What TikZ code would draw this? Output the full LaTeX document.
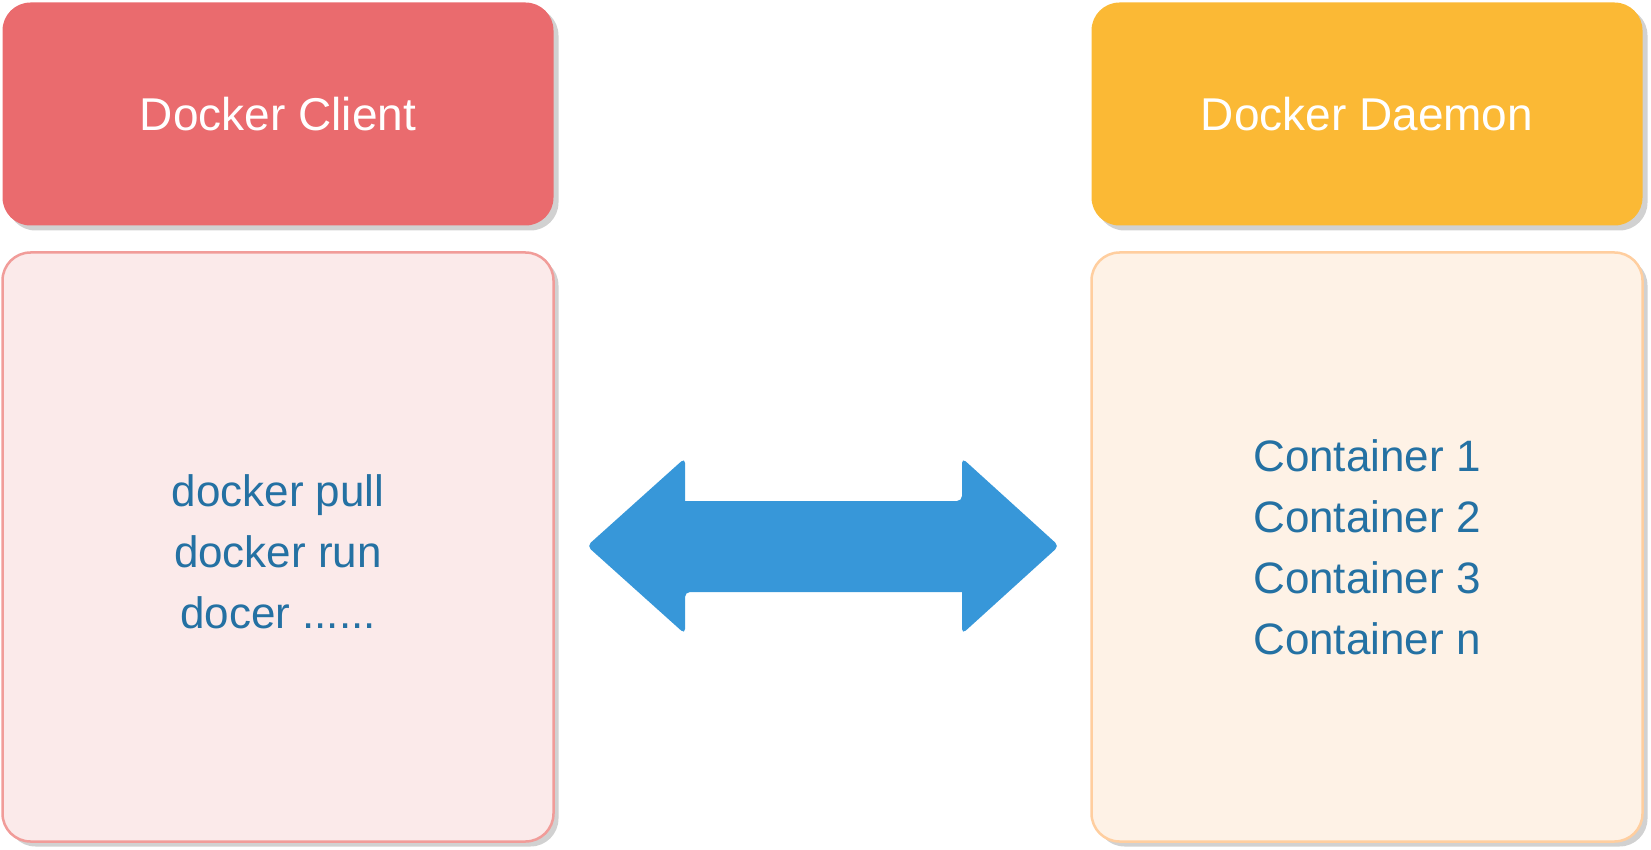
\documentclass[tikz,border=0pt]{standalone}
\usepackage{fontspec}
\setmainfont{Liberation Sans}
\usetikzlibrary{shadows}
\definecolor{clientred}{RGB}{234,107,110}
\definecolor{clientpink}{RGB}{251,234,234}
\definecolor{clientline}{RGB}{241,156,153}
\definecolor{daemonorange}{RGB}{251,185,53}
\definecolor{daemonpeach}{RGB}{254,242,230}
\definecolor{daemonline}{RGB}{255,206,159}
\definecolor{cmdblue}{RGB}{36,113,163}
\definecolor{linkblue}{RGB}{55,151,217}
\begin{document}
\begin{tikzpicture}[x=1pt,y=-1pt,
		card/.style={rounded corners=28pt,minimum width=551pt,inner sep=0pt,drop shadow={shadow xshift=5pt,shadow yshift=-5pt,fill=black!18,opacity=1}},
		head/.style={card,minimum height=223pt,text=white,font=\fontsize{46}{50}\selectfont},
		body/.style={card,minimum height=589pt,line width=2.5pt,text=cmdblue,align=center,font=\fontsize{44}{61}\selectfont}]
	\useasboundingbox (0,0) rectangle (1651,850);
	\path (278,114) node[head,fill=clientred](clienthead){Docker Client}
		(278,547) node[body,fill=clientpink,draw=clientline](clientbody){\rule{0pt}{42pt}docker pull\\docker run\\docer ......};
	\path (1367,114) node[head,fill=daemonorange](daemonhead){Docker Daemon}
		(1367,547) node[body,fill=daemonpeach,draw=daemonline](daemonbody){Container 1\\Container 2\\Container 3\\Container n};
	% double arrow between client and daemon
	\coordinate (lefttip) at (587,546);
	\coordinate (righttip) at (1059,546);
	\fill[linkblue,rounded corners=5pt] (685,501)--(685,458)--(lefttip)--(685,634)--(685,592)[sharp corners]--(962,592)[rounded corners=5pt]--(962,634)--(righttip)--(962,458)--(962,501)[sharp corners]--cycle;
\end{tikzpicture}
\end{document}
